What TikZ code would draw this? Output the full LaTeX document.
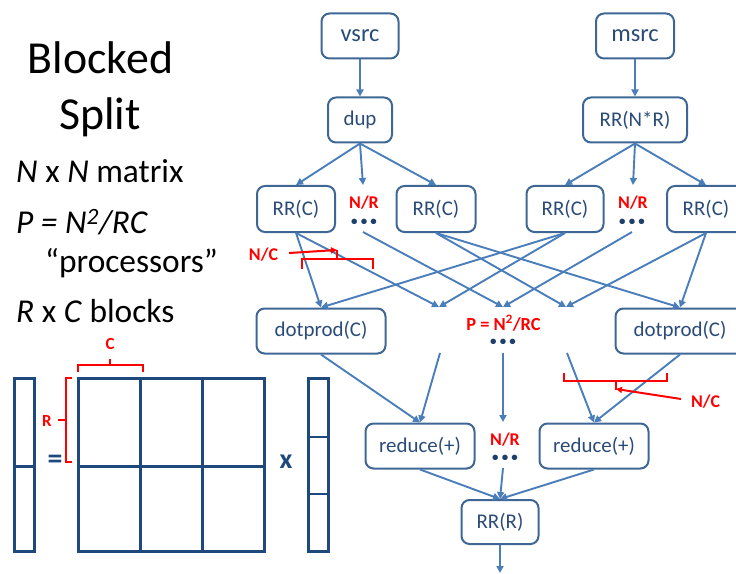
\documentclass[tikz,border=0pt]{standalone}
\usepackage{fontspec}
\setmainfont{Carlito}
\usetikzlibrary{arrows.meta}
\definecolor{boxblue}{HTML}{3F6796}
\definecolor{txtblue}{HTML}{2A4B78}
\definecolor{flowblue}{HTML}{4A7EBB}
\definecolor{matblue}{HTML}{1F497D}
\definecolor{dotblue}{HTML}{1F3F6B}
\newcommand{\elided}{•\kern3.2bp•\kern3.2bp•}
\tikzset{
  box/.style={draw=boxblue, line width=2bp, rounded corners=8bp, text=txtblue,
    font=\fontsize{21}{25}\selectfont, inner sep=0pt, minimum height=45bp},
  srcbox/.style={box, font=\fontsize{24.5}{28}\selectfont},
  flow/.style={draw=flowblue, line width=1.9bp, -{Triangle[length=7bp,width=7bp]}},
  redlab/.style={text=red, font=\bfseries\fontsize{18}{20}\selectfont, anchor=base, inner sep=0pt},
  redline/.style={draw=red, line width=2bp},
  redarrow/.style={draw=red, line width=2bp, -{Triangle[length=6bp,width=6bp]}},
  dotrow/.style={text=dotblue, font=\bfseries\fontsize{13}{13}\selectfont, anchor=base, inner sep=0pt},
  matline/.style={draw=matblue, line width=3bp},
  thinmat/.style={draw=matblue, line width=2.2bp},
  headline/.style={font=\fontsize{46}{52}\selectfont, anchor=base, inner sep=0pt},
  bodyline/.style={font=\fontsize{33.5}{38}\selectfont, anchor=base west, inner sep=0pt},
}
\begin{document}
\begin{tikzpicture}[x=1bp,y=-1bp]
\useasboundingbox (0,0) rectangle (736,574);
\clip (0,0) rectangle (736,574);

% ---- title and notes ----
\node[headline] (title1) at (100.5,74) {Blocked};
\node[headline] (title2) at (100,130) {Split};
\node[bodyline] (note1) at (16,183) {\textit{N} x \textit{N} matrix};
\node[bodyline] (note2) at (16,233) {\itshape P = N\textsuperscript{2}/RC};
\node[bodyline] (note3) at (45,272) {“processors”};
\node[bodyline] (note4) at (16,322) {\textit{R} x \textit{C} blocks};

% ---- process graph ----
\node[srcbox, minimum width=77bp] (vsrc) at (360,36) {vsrc};
\node[srcbox, minimum width=78bp] (msrc) at (635,36) {msrc};
\node[box, minimum width=64bp] (dup) at (360,120) {dup};
\node[box, minimum width=104bp] (rrnr) at (635,120) {RR(N*R)};
\node[box, minimum width=78bp, minimum height=46bp] (rc1) at (296,209) {RR(C)};
\node[box, minimum width=79bp, minimum height=46bp] (rc2) at (436,209) {RR(C)};
\node[box, minimum width=77bp, minimum height=46bp] (rc3) at (565,209) {RR(C)};
\node[box, minimum width=78bp, minimum height=46bp] (rc4) at (706,209) {RR(C)};
\node[box, minimum width=129bp] (dp1) at (321,331) {dotprod(C)};
\node[box, minimum width=129bp] (dp2) at (680,331) {dotprod(C)};
\node[box, minimum width=109bp] (red1) at (420,446) {reduce(+)};
\node[box, minimum width=109bp] (red2) at (594,446) {reduce(+)};
\node[box, minimum width=77bp, minimum height=44bp] (rrr) at (500,522) {RR(R)};

% elided branches
\node[redlab] (nr1) at (364,209) {N/R};
\node[dotrow] (dots1) at (364,225) {\elided};
\node[redlab] (nr2) at (633,209) {N/R};
\node[dotrow] (dots2) at (632,225) {\elided};
\node[redlab, font=\bfseries\fontsize{18.5}{20}\selectfont] (pnrc) at (503.5,330) {P = N\textsuperscript{2}/RC};
\node[dotrow] (dots3) at (503,345) {\elided};
\node[redlab] (nr3) at (505,445) {N/R};
\node[dotrow] (dots4) at (505,461) {\elided};

\coordinate (d1in) at (363,185);
\coordinate (d2in) at (633,185);
\coordinate (d1out) at (363,232);
\coordinate (d2out) at (632,232);
\coordinate (tg2) at (439,307);
\coordinate (tg3) at (503,307);
\coordinate (tg4) at (566,307);
\coordinate (og2) at (440,353);
\coordinate (og3) at (503,353);
\coordinate (og4) at (567,353);
\coordinate (d3in) at (503,422);
\coordinate (d3out) at (503,468);
\coordinate (outend) at (500,573);

% sources
\draw[flow] (vsrc) -- (dup);
\draw[flow] (msrc) -- (rrnr);
\draw[flow] (dup.south) -- (rc1.north);
\draw[flow] (dup.south) -- (d1in);
\draw[flow] (dup.south) -- (rc2.north);
\draw[flow] (rrnr.south) -- (rc3.north);
\draw[flow] (rrnr.south) -- (d2in);
\draw[flow] (rrnr.south) -- (rc4.north);

% vector pieces and matrix rows into the dot products
\draw[flow] (rc1.south) -- (dp1.north);
\draw[flow] (rc1.south) -- (tg2);
\draw[flow] (d1out) -- (tg3);
\draw[flow] (rc2.south) -- (tg4);
\draw[flow] (rc2.south) -- (dp2.north);
\draw[flow] (rc3.south) -- (dp1.north);
\draw[flow] (rc3.south) -- (tg2);
\draw[flow] (d2out) -- (tg3);
\draw[flow] (rc4.south) -- (tg4);
\draw[flow] (rc4.south) -- (dp2.north);

% partial sums into the reductions
\draw[flow] (dp1.south) -- (red1.north);
\draw[flow] (og2) -- (red1.north);
\draw[flow] (og3) -- (d3in);
\draw[flow] (og4) -- (red2.north);
\draw[flow] (dp2.south) -- (red2.north);
\draw[flow] (red1.south) -- (rrr.north);
\draw[flow] (d3out) -- (rrr.north);
\draw[flow] (red2.south) -- (rrr.north);
\draw[flow] (rrr.south) -- (outend);

% N/C braces
\node[redlab] (nc1) at (263.5,260) {N/C};
\draw[redline] (302,269) -- (302,259) -- (373,259) -- (373,269);
\draw[redline] (337,259) -- (337,250);
\coordinate (nc1tip) at (337,250);
\draw[redarrow] (289,253) -- (nc1tip);

\node[redlab] (nc2) at (705.5,407) {N/C};
\draw[redline] (564,373) -- (564,381) -- (667,381) -- (667,373);
\draw[redline] (616,381) -- (616,390);
\coordinate (nc2tip) at (616,389);
\draw[redarrow] (681,399) -- (nc2tip);

% ---- blocked matrix-vector product ----
\draw[matline] (14,378) rectangle (34,551);
\draw[matline] (14,466) -- (34,466);
\node[text=matblue, font=\bfseries\fontsize{30}{30}\selectfont, inner sep=0pt] (eq) at (55,462) {=};
\draw[matline] (78,378) rectangle (264,551);
\draw[matline] (140,378) -- (140,551);
\draw[matline] (202,378) -- (202,551);
\draw[matline] (78,466) -- (264,466);
\node[text=matblue, font=\bfseries\fontsize{28}{28}\selectfont, inner sep=0pt] (times) at (286,462) {x};
\draw[matline] (308,378) rectangle (328,551);
\draw[thinmat] (308,437) -- (328,437);
\draw[thinmat] (308,494) -- (328,494);

% block size braces
\node[redlab, font=\bfseries\fontsize{17}{19}\selectfont] (clab) at (110,349) {C};
\draw[redline] (78,372) -- (78,365) -- (143,365) -- (143,372);
\draw[redline] (110,365) -- (110,359);
\node[redlab, font=\bfseries\fontsize{17}{19}\selectfont] (rlab) at (47,426) {R};
\draw[redline] (72,378) -- (66,378) -- (66,462) -- (72,462);
\draw[redline] (66,420) -- (58,420);
\end{tikzpicture}
\end{document}
